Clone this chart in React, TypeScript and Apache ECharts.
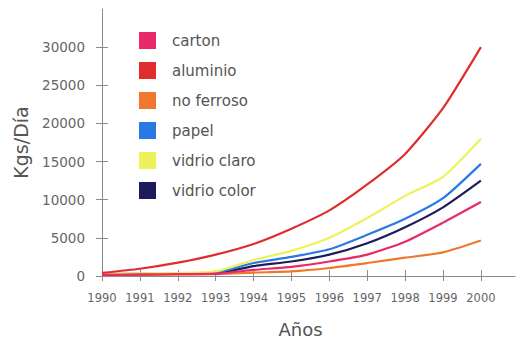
import React, { useEffect, useRef } from "react";
import * as echarts from "echarts";

// Years on the horizontal axis
const years = [1990, 1991, 1992, 1993, 1994, 1995, 1996, 1997, 1998, 1999, 2000];
const yTickValues = [0, 5000, 10000, 15000, 20000, 25000, 30000];

// Kilograms per day for each material
const carton = [150, 200, 250, 300, 800, 1200, 1900, 2800, 4500, 7000, 9700];
const aluminio = [400, 950, 1750, 2800, 4200, 6200, 8600, 12000, 16000, 22000, 30000];
const noFerroso = [100, 150, 200, 250, 450, 600, 1050, 1700, 2400, 3100, 4650];
const papel = [250, 300, 350, 450, 1700, 2500, 3500, 5400, 7500, 10200, 14700];
const vidrioClaro = [300, 350, 400, 600, 2100, 3300, 5000, 7600, 10500, 13000, 18000];
const vidrioColor = [200, 250, 300, 350, 1300, 1900, 2800, 4300, 6400, 9000, 12500];

const legendOrder = ["carton", "aluminio", "no ferroso", "papel", "vidrio claro", "vidrio color"];

const FONT = "DejaVu Sans";
const AXIS_COLOR = "#8a8a8a";
const TEXT_COLOR = "#666";

const seriesDefs = [
  { name: "no ferroso", data: noFerroso, color: "#f0782e" },
  { name: "vidrio color", data: vidrioColor, color: "#1c1c5c" },
  { name: "papel", data: papel, color: "#2a78e4" },
  { name: "vidrio claro", data: vidrioClaro, color: "#eef25a" },
  { name: "carton", data: carton, color: "#e82a68" },
  { name: "aluminio", data: aluminio, color: "#e02c2c" },
];

export default function App() {
  const ref = useRef<HTMLDivElement>(null);

  useEffect(() => {
    document.body.style.margin = "0";
    if (!ref.current) return;
    const chart = echarts.init(ref.current, null, { renderer: "svg" });

    const baseX = {
      type: "value" as const,
      min: 1990,
      max: 2000.9,
      position: "bottom" as const,
      splitLine: { show: false },
    };
    const baseY = {
      type: "value" as const,
      min: 0,
      max: 35000,
      position: "left" as const,
      splitLine: { show: false },
    };

    chart.setOption({
      animation: false,
      backgroundColor: "#fff",
      grid: { left: 102, top: 9, right: 3, bottom: 66, containLabel: false, outerBoundsMode: "none" },
      legend: {
        data: legendOrder,
        orient: "vertical",
        left: 139,
        top: 32,
        padding: 0,
        icon: "rect",
        itemWidth: 17,
        itemHeight: 17,
        itemGap: 13,
        selectedMode: false,
        textStyle: { fontFamily: FONT, fontSize: 15, color: "#555", padding: [0, 0, 0, 11] },
      },
      xAxis: [
        {
          ...baseX,
          name: "Años",
          nameLocation: "middle",
          nameGap: 44,
          nameTextStyle: { fontFamily: FONT, fontSize: 18, color: "#555", padding: [0, 16, 0, 0] },
          axisLine: { lineStyle: { color: AXIS_COLOR, width: 1 } },
          axisTick: { length: 5, customValues: years, lineStyle: { color: AXIS_COLOR } },
          axisLabel: {
            customValues: years,
            margin: 16,
            fontFamily: FONT,
            fontSize: 11.5,
            color: TEXT_COLOR,
            formatter: (v: number) => String(Math.round(v)),
          },
        },
        {
          ...baseX,
          axisLine: { show: false },
          axisTick: { show: true, inside: true, length: 6, customValues: years, lineStyle: { color: AXIS_COLOR } },
          axisLabel: { show: false },
        },
      ],
      yAxis: [
        {
          ...baseY,
          name: "Kgs/Día",
          nameLocation: "middle",
          nameGap: 72,
          nameRotate: 90,
          nameTextStyle: { fontFamily: FONT, fontSize: 19, color: "#555" },
          axisLine: { show: true, lineStyle: { color: AXIS_COLOR, width: 1 } },
          axisTick: { show: true, length: 6, customValues: yTickValues, lineStyle: { color: AXIS_COLOR } },
          axisLabel: {
            customValues: yTickValues,
            margin: 17,
            fontFamily: FONT,
            fontSize: 13.5,
            color: TEXT_COLOR,
            formatter: (v: number) => String(Math.round(v)),
          },
        },
        {
          ...baseY,
          axisLine: { show: false },
          axisTick: { show: true, inside: true, length: 6, customValues: yTickValues, lineStyle: { color: AXIS_COLOR } },
          axisLabel: { show: false },
        },
      ],
      series: seriesDefs.map((s) => ({
        name: s.name,
        type: "line",
        xAxisIndex: 0,
        yAxisIndex: 0,
        data: years.map((y, i) => [y, s.data[i]]),
        showSymbol: false,
        symbol: "none",
        smooth: 0.2,
        color: s.color,
        lineStyle: { color: s.color, width: 2.2 },
      })),
    });

    return () => chart.dispose();
  }, []);

  return <div ref={ref} style={{ width: 518, height: 342 }} />;
}
